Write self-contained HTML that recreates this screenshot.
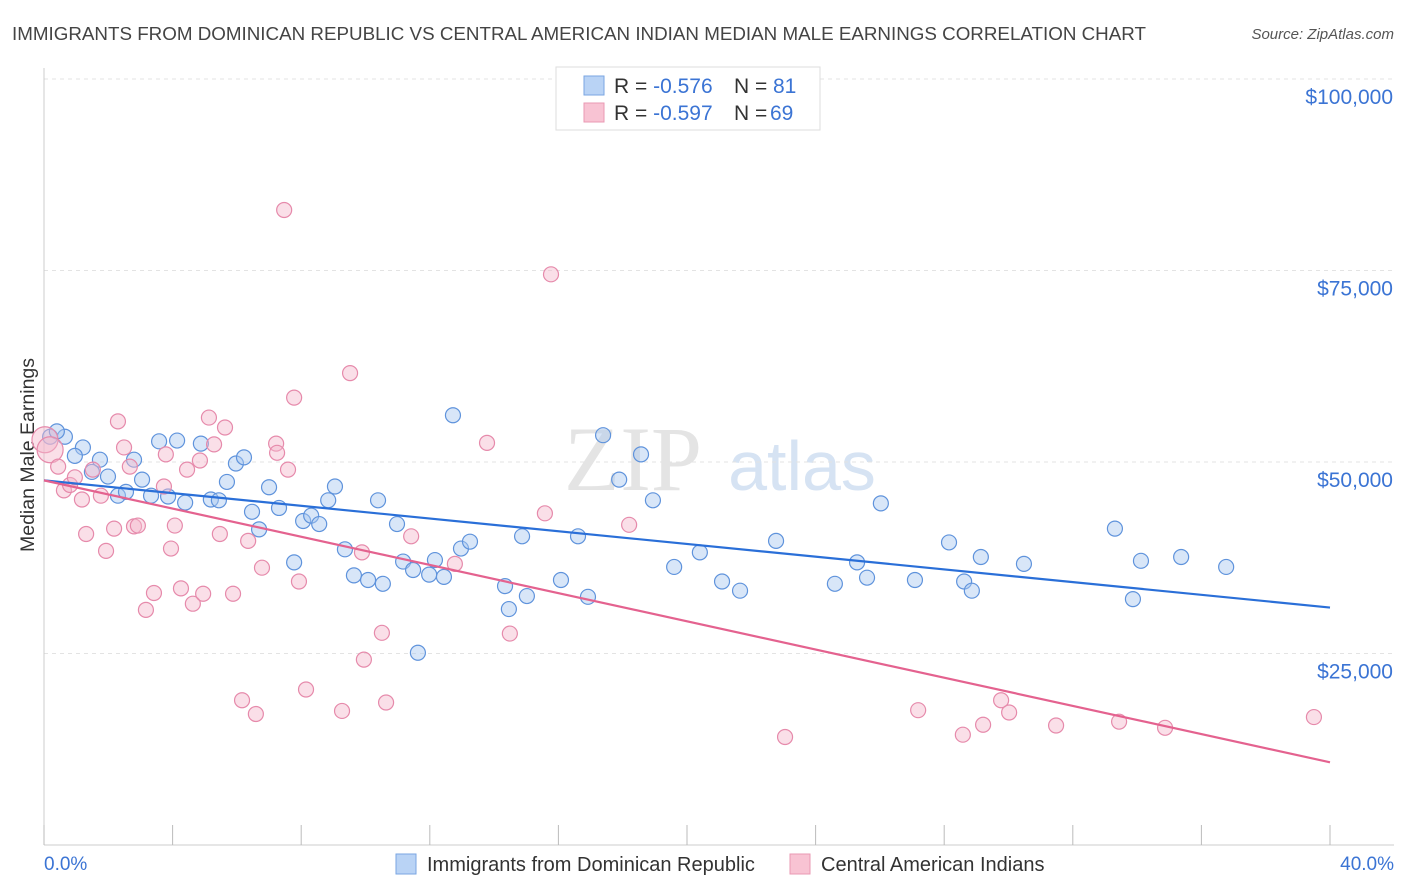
<!DOCTYPE html>
<html><head><meta charset="utf-8"><style>
body{margin:0;background:#fff;font-family:"Liberation Sans",sans-serif;}
#wrap{position:relative;width:1406px;height:892px;overflow:hidden;}
</style></head><body>
<div id="wrap">
<svg id="svg" width="1406" height="892">
<text x="12" y="40" font-size="18.8" fill="#444">IMMIGRANTS FROM DOMINICAN REPUBLIC VS CENTRAL AMERICAN INDIAN MEDIAN MALE EARNINGS CORRELATION CHART</text>
<text x="1394" y="39" font-size="15" fill="#555" text-anchor="end" font-style="italic">Source: ZipAtlas.com</text>
<text x="0" y="0" transform="translate(34,455) rotate(-90)" font-size="19.5" fill="#333" text-anchor="middle">Median Male Earnings</text>
<g><text x="633" y="490" font-size="92" fill="#e4e4e4" font-family="Liberation Serif,serif" text-anchor="middle">ZIP</text><text x="802" y="490" font-size="70" fill="#d6e3f3" text-anchor="middle">atlas</text></g>
<g id="grid"></g><g id="axes"></g><g id="pts"></g><g id="lines"></g>
<g>
<rect x="556" y="67" width="264" height="63" fill="#fff" stroke="#ddd"/>
<rect x="584" y="76" width="20" height="19" fill="#b9d3f5" stroke="#7aa6e2"/>
<rect x="584" y="103" width="20" height="19" fill="#f8c3d3" stroke="#ea98b3"/>
<text x="614" y="93" font-size="21" fill="#333">R = <tspan fill="#3b74d4">-0.576</tspan><tspan x="734">N = </tspan><tspan fill="#3b74d4" x="773">81</tspan></text>
<text x="614" y="120" font-size="21" fill="#333">R = <tspan fill="#3b74d4">-0.597</tspan><tspan x="734">N = </tspan><tspan fill="#3b74d4" x="770">69</tspan></text>
</g>
<g>
<rect x="396" y="854" width="20" height="20" fill="#b9d3f5" stroke="#7aa6e2"/>
<text x="427" y="871" font-size="20" fill="#333">Immigrants from Dominican Republic</text>
<rect x="790" y="854" width="20" height="20" fill="#f8c3d3" stroke="#ea98b3"/>
<text x="821" y="871" font-size="20" fill="#333">Central American Indians</text>
</g>
<text x="44" y="870" font-size="19" fill="#3b74d4">0.0%</text>
<text x="1394" y="870" font-size="19" fill="#3b74d4" text-anchor="end">40.0%</text>
</svg>
</div>
<script>
const yTicks=[25000,50000,75000,100000];
const yTickLabels=["$25,000","$50,000","$75,000","$100,000"];
const xTicks=[0,4,8,12,16,20,24,28,32,36,40];
const blueX=[0.19,0.65,1.21,0.96,1.74,1.49,1.99,2.30,2.55,2.80,3.05,3.33,3.58,3.86,4.14,4.39,4.88,5.19,5.44,5.69,5.97,6.22,6.47,6.69,7.00,7.31,7.78,8.06,8.31,8.56,8.84,9.05,9.36,9.64,10.08,10.39,10.54,10.98,11.17,11.48,11.63,11.98,12.16,12.44,12.72,12.97,13.25,14.34,14.46,14.87,15.02,16.08,16.61,16.92,17.39,17.89,18.57,18.94,19.60,20.40,21.09,21.65,22.77,24.60,25.29,25.60,26.03,27.09,28.15,28.62,28.86,29.14,30.48,33.31,33.87,34.12,35.37,36.77,0.40];
const blueY=[53.3,53.3,51.9,50.8,50.3,48.7,48.1,45.6,46.1,50.3,47.7,45.6,52.7,45.5,52.8,44.7,52.4,45.1,45.0,47.4,49.8,50.6,43.5,41.2,46.7,44.0,36.9,42.3,43.0,41.9,45.0,46.8,38.6,35.2,34.6,45.0,34.1,41.9,37.0,35.9,25.1,35.3,37.2,35.0,56.1,38.7,39.6,33.8,30.8,40.3,32.5,34.6,40.3,32.4,53.5,47.7,51.0,45.0,36.3,38.2,34.4,33.2,39.7,34.1,36.9,34.9,44.6,34.6,39.5,34.4,33.2,37.6,36.7,41.3,32.1,37.1,37.6,36.3,54.0];
const pinkX=[0.03,0.19,0.44,0.62,0.81,0.96,1.18,1.31,1.52,1.77,1.93,2.18,2.30,2.49,2.67,2.80,2.92,3.17,3.42,3.73,3.79,3.95,4.07,4.26,4.45,4.63,4.85,4.95,5.13,5.29,5.47,5.63,5.88,6.16,6.35,6.59,6.78,7.22,7.25,7.47,7.59,7.78,7.93,8.15,9.27,9.52,9.89,9.95,10.51,10.64,11.42,12.78,13.78,14.49,15.58,15.77,18.20,23.05,27.19,28.58,29.21,29.77,30.02,31.48,33.44,34.87,39.50];
const pinkY=[52.9,51.6,49.4,46.3,47.0,48.0,45.1,40.6,49.0,45.6,38.4,41.3,55.3,51.9,49.4,41.6,41.7,30.7,32.9,46.8,51.0,38.7,41.7,33.5,49.0,31.5,50.2,32.8,55.8,52.3,40.6,54.5,32.8,18.9,39.7,17.1,36.2,52.4,51.2,82.9,49.0,58.4,34.4,20.3,17.5,61.6,38.2,24.2,27.7,18.6,40.3,36.7,52.5,27.6,43.3,74.5,41.8,14.1,17.6,14.4,15.7,18.9,17.3,15.6,16.1,15.3,16.7];
const blueTrend=[47.6,31.0];
const pinkTrend=[47.6,10.8];
const NS="http://www.w3.org/2000/svg";
const X0=44,X1=1330,YB=845,YT=79;
const sx=v=>X0+(v/40)*(X1-X0);
const sy=v=>YB-(v/100000)*(YB-YT);
function mk(t,a,p){const e=document.createElementNS(NS,t);for(const k in a)e.setAttribute(k,a[k]);p.appendChild(e);return e;}
const grid=document.getElementById('grid'),axes=document.getElementById('axes'),pts=document.getElementById('pts'),lines=document.getElementById('lines');
yTicks.forEach((t,i)=>{
 const g=mk('line',{x1:X0,x2:1394,y1:sy(t),y2:sy(t),stroke:'#e3e3e3','stroke-dasharray':'4,4'},grid);
 
 
 const l=mk('text',{x:1393,y:sy(t)+25,'font-size':21,fill:'#3b74d4','text-anchor':'end'},axes);
 l.textContent=yTickLabels[i];
 
 
});
const xa=mk('line',{x1:X0,x2:1394,y1:YB,y2:YB,stroke:'#ccc'},axes);


const ya=mk('line',{x1:X0,x2:X0,y1:68,y2:YB,stroke:'#ccc'},axes);


xTicks.forEach(t=>{
 const k=mk('line',{x1:sx(t),x2:sx(t),y1:YB-20,y2:YB,stroke:'#bbb'},axes);
 
 
});
function dot(x,y,r,fill,stroke,name){
 const c=mk('circle',{cx:sx(x),cy:sy(y*1000),r:r,fill:fill,'fill-opacity':0.45,stroke:stroke,'stroke-width':1.2},pts);
 
 
}
blueX.forEach((x,i)=>dot(x,blueY[i],7.5,'#a9c8f0','#5f93dc','blue-point'));
pinkX.forEach((x,i)=>dot(x,pinkY[i],i<2?13:7.5,'#f5b8cb','#e68aab','pink-point'));
const bl=mk('line',{x1:sx(0),y1:sy(blueTrend[0]*1000),x2:sx(40),y2:sy(blueTrend[1]*1000),stroke:'#2a6fd8','stroke-width':2.2},lines);


const pl=mk('line',{x1:sx(0),y1:sy(pinkTrend[0]*1000),x2:sx(40),y2:sy(pinkTrend[1]*1000),stroke:'#e4628f','stroke-width':2.2},lines);


</script>
</body></html>
